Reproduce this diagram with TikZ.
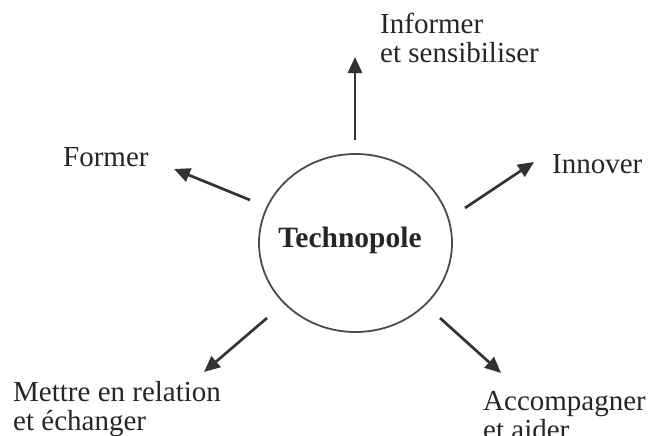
\documentclass[tikz,border=0pt]{standalone}
\usepackage{fontspec}
\setmainfont{Liberation Serif}
\usetikzlibrary{arrows.meta,shapes.geometric}
\begin{document}
\begin{tikzpicture}[x=1pt,y=-1pt,
  lbl/.style={anchor=base west, inner sep=0pt, text=black!85,
    font=\fontsize{29}{29}\selectfont},
  arr/.style={line width=2.7pt, draw=black!80,
    -{Triangle[length=16pt,width=14pt]}},
  hub/.style={draw=black!70, line width=1.8pt, ellipse,
    minimum width=193pt, minimum height=178pt, inner sep=0pt}]
\useasboundingbox (0,0) rectangle (650,436);
\fill[white] (0,0) rectangle (650,436);

\node[hub] (c) at (355.5,243) {};
\node[anchor=base, inner sep=0pt, text=black!85,
  font=\fontsize{29.5}{30}\selectfont\bfseries] (t) at (350,247) {Technopole};

\node[lbl] (inf) at (380,34) {\begin{tabular}[t]{@{}l@{}}Informer\\et sensibiliser\end{tabular}};
\node[lbl] (inn) at (552,173) {Innover};
\node[lbl] (for) at (63,166) {Former};
\node[lbl] (met) at (13,401) {\begin{tabular}[t]{@{}l@{}}Mettre en relation\\et échanger\end{tabular}};
\node[lbl] (acc) at (483,410) {\begin{tabular}[t]{@{}l@{}}Accompagner\\et aider\end{tabular}};

\coordinate (u0) at (355,140);  \coordinate (u1) at (355,57);
\coordinate (f0) at (250,200);  \coordinate (f1) at (174,169);
\coordinate (i0) at (465,208);  \coordinate (i1) at (534,162);
\coordinate (m0) at (267,318);  \coordinate (m1) at (204,372);
\coordinate (a0) at (440,318);  \coordinate (a1) at (501,373);

\draw[arr] (u0) -- (u1);
\draw[arr] (f0) -- (f1);
\draw[arr] (i0) -- (i1);
\draw[arr] (m0) -- (m1);
\draw[arr] (a0) -- (a1);
\end{tikzpicture}
\end{document}
